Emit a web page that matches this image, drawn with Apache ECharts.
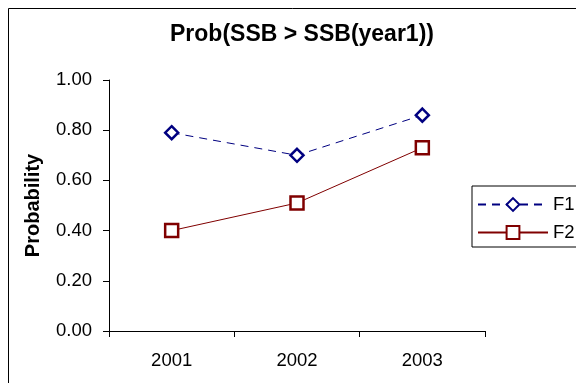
<!DOCTYPE html>
<html><head><meta charset="utf-8">
<script src="https://cdn.jsdelivr.net/npm/echarts@6/dist/echarts.min.js"></script>
<style>html,body{margin:0;padding:0;background:#fff}#c{width:576px;height:383px}</style>
</head><body><div id="c"></div>
<script>
var categories = ['2001', '2002', '2003'];
var f1Values = [0.79, 0.70, 0.86];
var f2Values = [0.40, 0.51, 0.73];
var yTicks = [0, 0.2, 0.4, 0.6, 0.8, 1.0];
var titleText = 'Prob(SSB > SSB(year1))';
var yName = 'Probability';

var FONT = "'Liberation Sans', Arial, sans-serif";
var chart = echarts.init(document.getElementById('c'), null, {renderer: 'canvas'});
chart.setOption({
  animation: false,
  backgroundColor: '#fff',
  graphic: [{
    type: 'rect', silent: true, z: -1,
    shape: {x: 8.5, y: 8.5, width: 700, height: 500},
    style: {fill: 'none', stroke: '#000', lineWidth: 1}
  }],
  title: {
    text: titleText, left: 302, top: 23, textAlign: 'center', padding: 0,
    textStyle: {fontFamily: FONT, fontSize: 23, fontWeight: 'bold', color: '#000'}
  },
  legend: {
    orient: 'vertical', left: 472, top: 186,
    borderColor: '#000', borderWidth: 1, padding: [9, 40, 5, 5],
    itemWidth: 70, itemHeight: 16, itemGap: 9,
    textStyle: {fontFamily: FONT, fontSize: 18.5, color: '#000'},
    data: ['F1', 'F2']
  },
  grid: {left: 109, right: 91, top: 80, bottom: 52, containLabel: false},
  xAxis: {
    type: 'category', data: categories, boundaryGap: true,
    axisLine: {lineStyle: {color: '#000', width: 1}},
    axisTick: {show: true, length: 6, inside: false, alignWithLabel: false, interval: 0, lineStyle: {color: '#000'}},
    axisLabel: {fontFamily: FONT, fontSize: 18.5, color: '#000', margin: 20, interval: 0},
    splitLine: {show: false}
  },
  yAxis: {
    type: 'value', min: 0, max: 1, interval: 0.2,
    name: yName, nameLocation: 'middle', nameGap: 66, nameRotate: 90,
    nameTextStyle: {fontFamily: FONT, fontSize: 20, fontWeight: 'bold', color: '#000'},
    axisLine: {show: true, lineStyle: {color: '#000', width: 1}},
    axisTick: {show: true, length: 6, lineStyle: {color: '#000'}},
    axisLabel: {fontFamily: FONT, fontSize: 18.5, color: '#000', margin: 17,
      formatter: function (v) { return v.toFixed(2); }},
    splitLine: {show: false}
  },
  series: [{
    name: 'F1', type: 'line', data: f1Values,
    symbol: 'diamond', symbolSize: 13,
    lineStyle: {color: '#000080', width: 1, type: [8, 6]},
    itemStyle: {color: '#fff', borderColor: '#000080', borderWidth: 2.5}
  }, {
    name: 'F2', type: 'line', data: f2Values,
    symbol: 'rect', symbolSize: 13,
    lineStyle: {color: '#800000', width: 1},
    itemStyle: {color: '#fff', borderColor: '#800000', borderWidth: 2.5}
  }]
});
</script></body></html>
